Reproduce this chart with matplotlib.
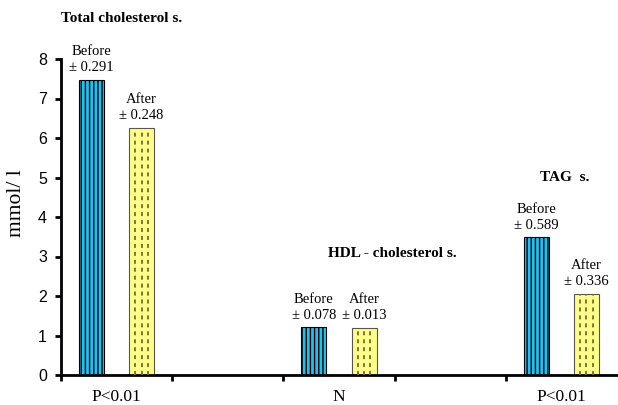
import numpy as np
import matplotlib.pyplot as plt

# group positions on a 5-slot axis (slots 1 and 3 are empty)
groups = ['Total cholesterol s.', 'HDL - cholesterol s.', 'TAG  s.']
group_pos = np.array([0, 2, 4])
xtick_labels = ['P<0.01', '', 'N', '', 'P<0.01']

before = [7.47, 1.21, 3.49]
after = [6.26, 1.19, 2.05]
sd_before = ['0.291', '0.078', '0.589']
sd_after = ['0.248', '0.013', '0.336']

w = 0.225
serif = ['Liberation Serif', 'DejaVu Serif']

fig = plt.figure(figsize=(6.18, 4.05), dpi=100)
ax = fig.add_axes([61/618, 1-375/405, 556/618, 316/405])

ax.bar(group_pos - w, before, width=w, color='#1ec3f0', edgecolor='black',
       linewidth=0.8, hatch='||||', zorder=2)
ax.bar(group_pos + w, after, width=w, color='#ffff88', edgecolor='#555555',
       linewidth=0.8, zorder=2)
# dashed columns inside the "after" bars
for i, x in enumerate(group_pos):
    for dx in (-0.25, 0, 0.25):
        ax.vlines(x + w + dx * w, 0, after[i], colors='#6b6b45', linewidth=1.3,
                  linestyles=(0, (2.2, 2.2)), zorder=3)

# labels over bars
for i, x in enumerate(group_pos):
    ax.text(x - w, before[i] + 0.14, 'Before\n\u00b1 ' + sd_before[i], ha='center', va='bottom',
            family=serif, fontsize=10.5, linespacing=1.3)
    ax.text(x + w, after[i] + 0.14, 'After\n\u00b1 ' + sd_after[i], ha='center', va='bottom',
            family=serif, fontsize=10.5, linespacing=1.3)

# group titles
ax.text(-0.5, 9.02, groups[0], ha='left', va='center', family=serif, fontsize=11, fontweight='bold')
ax.text(1.9, 3.07, groups[1], ha='left', va='center', family=serif, fontsize=11, fontweight='bold')
ax.text(4.03, 5.0, groups[2], ha='center', va='center', family=serif, fontsize=11, fontweight='bold')

ax.set_xlim(-0.5, 4.5)
ax.set_ylim(0, 8)
ax.set_yticks(range(9))
ax.set_xticks(range(5))
ax.set_xticklabels(xtick_labels, family=serif, fontsize=12.5)
ax.set_xticks(np.arange(-0.5, 4.5, 1), minor=True)
ax.tick_params(axis='x', which='major', length=0, pad=10)
ax.tick_params(axis='x', which='minor', length=4, width=2, direction='out')
ax.tick_params(axis='y', length=4, width=2, direction='out', labelsize=11.5, pad=6)
for t in ax.get_yticklabels():
    t.set_family(['Liberation Sans', 'DejaVu Sans'])

ax.set_ylabel('mmol/ l', family=serif, fontsize=15.5)
ax.yaxis.set_label_coords(-0.063, 0.544)

for s in ['top', 'right']:
    ax.spines[s].set_visible(False)
for s in ['left', 'bottom']:
    ax.spines[s].set_linewidth(2)

plt.savefig('out.png', dpi=100)
plt.close()
